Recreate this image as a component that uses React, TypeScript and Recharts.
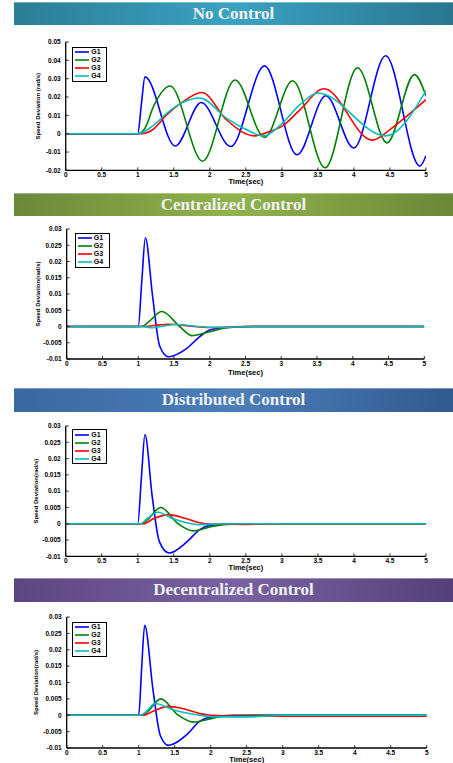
import React from 'react';
import { LineChart, Line, XAxis, YAxis, Legend } from 'recharts';

type Pt = [number, number];

// ---------- shared labels / ticks ----------
const SERIES_NAMES = ['G1', 'G2', 'G3', 'G4'];
const SERIES_COLORS = ['#0000ff', '#008000', '#ff0000', '#00bfbf'];
const X_TICKS = [0, 0.5, 1, 1.5, 2, 2.5, 3, 3.5, 4, 4.5, 5];
const Y_TICKS_NC = [-0.02, -0.01, 0, 0.01, 0.02, 0.03, 0.04, 0.05];
const Y_TICKS_CTRL = [-0.01, -0.005, 0, 0.005, 0.01, 0.015, 0.02, 0.025, 0.03];
const TITLES = ['No Control', 'Centralized Control', 'Distributed Control', 'Decentralized Control'];
const Y_LABELS = ['Speed Deviation (rad/s)', 'Speed Deviation(rad/s)', 'Speed Deviation(rad/s)', 'Speed Deviation(rad/s)'];
const X_LABEL = 'Time(sec)';

// ---------- No Control ----------
const NC_G1: Pt[] = [[0, 0], [1, 0], [1.05, 0.016], [1.1, 0.031], [1.52, -0.0067], [1.88, 0.017], [2.29, -0.007], [2.76, 0.037], [3.21, -0.0115], [3.61, 0.0207], [4.0, -0.0078], [4.44, 0.0425], [4.915, -0.0176], [5, -0.012]];
const NC_G2: Pt[] = [[0, 0], [1, 0], [1.1, 0.003], [1.22, 0.015], [1.45, 0.026], [1.9, -0.015], [2.35, 0.0293], [2.76, -0.002], [3.15, 0.0289], [3.6, -0.0186], [4.05, 0.036], [4.46, -0.005], [4.84, 0.0322], [5, 0.0205]];
const NC_G3: Pt[] = [[0, 0], [1.05, 0], [1.2, 0.002], [1.4, 0.0103], [1.59, 0.0164], [1.89, 0.0225], [2.23, 0.0076], [2.62, -0.0012], [2.83, 0.0012], [3.0, 0.004], [3.25, 0.013], [3.585, 0.0245], [4.25, -0.0035], [4.5, 0.0022], [4.73, 0.0095], [5, 0.0186]];
const NC_G4: Pt[] = [[0, 0], [1.0, 0], [1.2, 0.004], [1.4, 0.011], [1.59, 0.0164], [1.86, 0.0195], [2.23, 0.0085], [2.47, 0.003], [2.75, -0.0012], [3.0, 0.0055], [3.25, 0.0158], [3.5, 0.0222], [4.44, -0.0012], [5, 0.0234]];

// ---------- Centralized Control ----------
const CC_G1: Pt[] = [[0, 0], [1, 0], [1.05, 0.014], [1.1, 0.0273], [1.2, 0.0095], [1.3, -0.006], [1.42, -0.0093], [1.68, -0.0067], [1.86, -0.0031], [2.0, -0.0011], [2.24, -0.0003], [2.6, 0], [5, 0]];
const CC_G2: Pt[] = [[0, 0], [1.05, 0], [1.15, 0.0015], [1.33, 0.0046], [1.58, 0], [1.75, -0.0028], [2.0, -0.0016], [2.24, -0.0004], [2.6, 0], [5, 0]];
const CC_G3: Pt[] = [[0, 0], [1.1, 0], [1.25, 0.0004], [1.45, 0.0007], [1.7, 0.0002], [2.0, -0.0003], [2.5, 0], [5, 0]];
const CC_G4: Pt[] = [[0, 0], [1.05, 0], [1.2, -0.0004], [1.32, 0], [1.54, 0.0006], [1.8, 0.0001], [2.1, -0.0003], [2.6, 0], [5, 0]];

// ---------- Distributed Control ----------
const DC_G1: Pt[] = [[0, 0], [1, 0], [1.05, 0.014], [1.1, 0.0274], [1.2, 0.0085], [1.3, -0.0055], [1.434, -0.009], [1.68, -0.0056], [1.86, -0.0018], [2.0, -0.0005], [2.3, 0], [5, 0]];
const DC_G2: Pt[] = [[0, 0], [1.05, 0], [1.124, 0.001], [1.318, 0.005], [1.56, 0], [1.77, -0.0022], [2.0, -0.001], [2.23, -0.0002], [2.6, 0], [5, 0]];
const DC_G3: Pt[] = [[0, 0], [1.08, 0], [1.216, 0.0015], [1.425, 0.0028], [1.68, 0.0015], [1.86, 0.0003], [2.0, -0.0001], [2.5, -0.0002], [3.0, 0], [5, 0]];
const DC_G4: Pt[] = [[0, 0], [1.04, 0], [1.124, 0.0015], [1.277, 0.0035], [1.49, 0.0015], [1.68, 0.0003], [1.86, -0.0003], [2.1, -0.0001], [2.5, 0], [5, 0]];

// ---------- Decentralized Control ----------
const DE_G1: Pt[] = [[0, 0], [1, 0], [1.04, 0.014], [1.083, 0.0275], [1.2, 0.0075], [1.3, -0.0062], [1.41, -0.0092], [1.667, -0.0059], [1.85, -0.0018], [1.99, -0.0006], [2.3, 0], [5, 0]];
const DE_G2: Pt[] = [[0, 0], [1.05, 0], [1.12, 0.001], [1.306, 0.005], [1.55, 0], [1.76, -0.0021], [1.99, -0.0011], [2.22, -0.0002], [2.6, 0], [5, 0]];
const DE_G3: Pt[] = [[0, 0], [1.065, 0], [1.2, 0.0012], [1.41, 0.0027], [1.67, 0.0017], [1.85, 0.0005], [2.0, 0], [2.5, -0.0003], [5, -0.0003]];
const DE_G4: Pt[] = [[0, 0], [1.03, 0], [1.11, 0.0012], [1.227, 0.0036], [1.48, 0.0017], [1.667, 0.0007], [1.85, 0], [2.08, -0.0005], [2.55, -0.0005], [3.0, 0], [5, 0]];

const SERIES_SETS: Pt[][][] = [
  [NC_G1, NC_G2, NC_G3, NC_G4],
  [CC_G1, CC_G2, CC_G3, CC_G4],
  [DC_G1, DC_G2, DC_G3, DC_G4],
  [DE_G1, DE_G2, DE_G3, DE_G4],
];
const Y_TICK_SETS = [Y_TICKS_NC, Y_TICKS_CTRL, Y_TICKS_CTRL, Y_TICKS_CTRL];

// ---------- layout (positions / styles only) ----------
const PAGE_W = 453;
const PAGE_H = 763;
const TITLE_FONT = '"Liberation Serif", "Times New Roman", serif';
const AXIS_FONT = '"Liberation Sans", Arial, Helvetica, sans-serif';

const BARS = [
  { top: 2, height: 23, bg: 'linear-gradient(to right, #2c7d96 0%, #3ba2c2 50%, #2a7690 100%)' },
  { top: 192.5, height: 23.5, bg: 'linear-gradient(to right, #6b893a 0%, #92b24d 50%, #6a8837 100%)' },
  { top: 388, height: 24, bg: 'linear-gradient(to right, #3a67a0 0%, #4c7eb8 50%, #315a8f 100%)' },
  { top: 578, height: 23.5, bg: 'linear-gradient(to right, #5c4681 0%, #7a62a2 50%, #54407a 100%)' },
];

const PLOTS = [
  { l: 65.7, t: 42.3, r: 426, b: 170.7, labelX: 38, timeDy: 14, legend: { x: 72.3, y: 46.7 } },
  { l: 66.7, t: 229, r: 424.3, b: 359, labelX: 37.5, timeDy: 15.5, legend: { x: 74.7, y: 232.7 } },
  { l: 65.7, t: 425.7, r: 426, b: 556, labelX: 36, timeDy: 14, legend: { x: 72.3, y: 429.3 } },
  { l: 66.7, t: 617.3, r: 426.7, b: 748.3, labelX: 36, timeDy: 13.5, legend: { x: 72.3, y: 621.7 } },
];

const TOP_PAD = 10;
const BOTTOM_PAD = 26;
const XH = 20;

const fmt = (v: number) => String(parseFloat(Number(v).toFixed(4)));

const renderLegend = (props: any) => {
  const payload = props.payload || [];
  return (
    <div
      style={{
        border: '1px solid #000',
        background: '#fff',
        padding: '0.5px 0',
        width: 33,
        boxSizing: 'content-box',
      }}
    >
      {payload.map((p: any) => (
        <div key={p.value} style={{ display: 'flex', alignItems: 'center', height: 8, paddingLeft: 2 }}>
          <svg width={14} height={8} style={{ display: 'block', marginRight: 2 }}>
            <line x1={0} y1={4} x2={14} y2={4} stroke={p.color} strokeWidth={1.6} />
          </svg>
          <span
            style={{
              fontSize: 7,
              fontWeight: 'bold',
              fontFamily: AXIS_FONT,
              lineHeight: '8px',
              color: '#000',
            }}
          >
            {p.value}
          </span>
        </div>
      ))}
    </div>
  );
};

function ChartPanel({ idx }: { idx: number }) {
  const p = PLOTS[idx];
  const yTicks = Y_TICK_SETS[idx];
  const series = SERIES_SETS[idx];
  const yw = 2 * (p.l - p.labelX);
  const top = p.t - TOP_PAD;
  const height = p.b - p.t + TOP_PAD + BOTTOM_PAD;
  const yDomain: [number, number] = [yTicks[0], yTicks[yTicks.length - 1]];
  const tickStyle = { fontSize: 6.5, fontWeight: 'bold', fill: '#000', fontFamily: AXIS_FONT } as any;
  return (
    <div style={{ position: 'absolute', left: 0, top }}>
      <LineChart
        width={PAGE_W}
        height={height}
        margin={{ top: TOP_PAD, right: PAGE_W - p.r, bottom: BOTTOM_PAD - XH, left: p.l - yw }}
      >
        <XAxis
          type="number"
          dataKey="t"
          domain={[0, 5]}
          allowDataOverflow
          ticks={X_TICKS}
          interval={0}
          height={XH}
          tickSize={-3}
          tickMargin={5}
          tickFormatter={fmt}
          tick={tickStyle}
          axisLine={{ stroke: '#000', strokeWidth: 1.3 }}
          tickLine={{ stroke: '#000', strokeWidth: 0.8 }}
          label={{
            value: X_LABEL,
            position: 'insideBottom',
            offset: XH - p.timeDy,
            fontSize: 7.5,
            fontWeight: 'bold',
            fill: '#000',
            fontFamily: AXIS_FONT,
          } as any}
        />
        <XAxis
          xAxisId="top"
          orientation="top"
          type="number"
          domain={[0, 5]}
          allowDataOverflow
          ticks={X_TICKS}
          interval={0}
          height={0}
          tickSize={-3}
          tick={false}
          axisLine={{ stroke: '#000', strokeWidth: 1.3 }}
          tickLine={{ stroke: '#000', strokeWidth: 0.8 }}
        />
        <YAxis
          type="number"
          domain={yDomain}
          allowDataOverflow
          ticks={yTicks}
          interval={0}
          width={yw}
          tickSize={-3}
          tickMargin={8}
          tickFormatter={fmt}
          tick={tickStyle}
          axisLine={{ stroke: '#000', strokeWidth: 1.3 }}
          tickLine={{ stroke: '#000', strokeWidth: 0.8 }}
          label={{
            value: Y_LABELS[idx],
            angle: -90,
            position: 'center',
            fontSize: 6,
            fontWeight: 'bold',
            fill: '#000',
            fontFamily: AXIS_FONT,
          } as any}
        />
        <YAxis
          yAxisId="right"
          orientation="right"
          type="number"
          domain={yDomain}
          allowDataOverflow
          ticks={yTicks}
          interval={0}
          width={0}
          tickSize={-3}
          tick={false}
          axisLine={{ stroke: '#000', strokeWidth: 1.3 }}
          tickLine={{ stroke: '#000', strokeWidth: 0.8 }}
        />
        <Legend
          layout="vertical"
          verticalAlign="middle"
          align="center"
          content={renderLegend}
          wrapperStyle={{ left: p.legend.x, top: p.legend.y - top, width: 'auto', height: 'auto' }}
        />
        {series.map((pts, i) => (
          <Line
            key={SERIES_NAMES[i]}
            name={SERIES_NAMES[i]}
            data={pts.map(([t, v]) => ({ t, v }))}
            dataKey="v"
            type="monotone"
            stroke={SERIES_COLORS[i]}
            strokeWidth={1.6}
            dot={false}
            activeDot={false}
            isAnimationActive={false}
          />
        ))}
      </LineChart>
    </div>
  );
}

export default function App() {
  return (
    <div
      style={{
        position: 'absolute',
        left: 0,
        top: 0,
        width: PAGE_W,
        height: PAGE_H,
        overflow: 'hidden',
        background: '#fff',
      }}
    >
      {BARS.map((b, i) => (
        <div
          key={TITLES[i]}
          style={{
            position: 'absolute',
            left: 14,
            top: b.top,
            width: PAGE_W - 14,
            height: b.height,
            background: b.bg,
            color: '#eef2f4',
            fontFamily: TITLE_FONT,
            fontWeight: 'bold',
            fontSize: 17,
            lineHeight: `${b.height}px`,
            textAlign: 'center',
            boxShadow: 'inset 0 1px 0 rgba(255,255,255,0.35)',
          }}
        >
          {TITLES[i]}
        </div>
      ))}
      {PLOTS.map((_, i) => (
        <ChartPanel key={i} idx={i} />
      ))}
    </div>
  );
}
